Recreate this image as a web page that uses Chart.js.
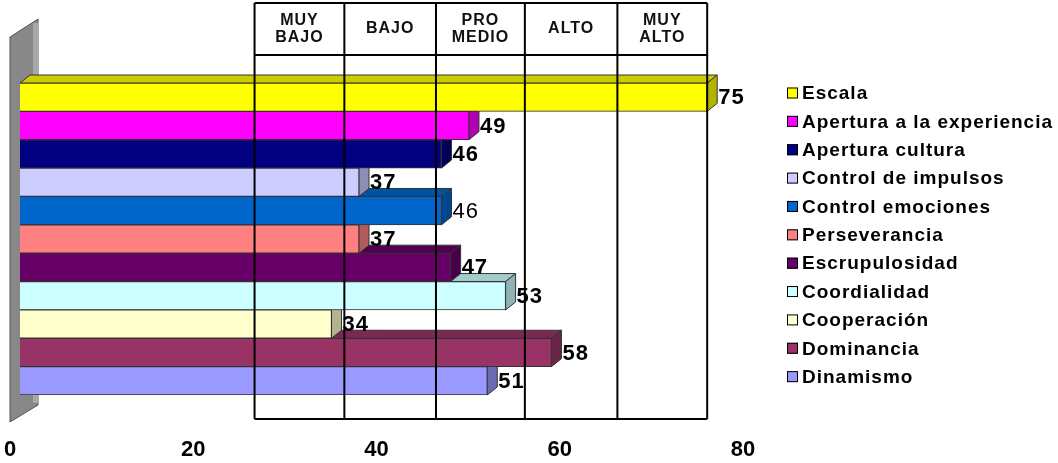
<!DOCTYPE html>
<html>
<head>
<meta charset="utf-8">
<script src="https://cdn.jsdelivr.net/npm/chart.js@4/dist/chart.umd.min.js"></script>
<style>
  html, body { margin: 0; padding: 0; background: #fff; }
  #wrap { width: 1058px; height: 463px; }
</style>
</head>
<body>
<div id="wrap"><canvas id="perfil"></canvas></div>
<script>
const escalas = [
  "Escala",
  "Apertura a la experiencia",
  "Apertura cultura",
  "Control de impulsos",
  "Control emociones",
  "Perseverancia",
  "Escrupulosidad",
  "Coordialidad",
  "Cooperación",
  "Dominancia",
  "Dinamismo"
];
const puntajes = [75, 49, 46, 37, 46, 37, 47, 53, 34, 58, 51];
const colores = [
  "#FFFF00", "#FF00FF", "#000080", "#CCCCFF", "#0066CC", "#FF8080",
  "#660066", "#CCFFFF", "#FFFFCC", "#993366", "#9999FF"
];
const ejeTicks = [0, 20, 40, 60, 80];
// rangos de la tabla superior (en puntos de la escala)
const rangos = ["MUY\nBAJO", "BAJO", "PRO\nMEDIO", "ALTO", "MUY\nALTO"];
const limitesRango = [25.6, 35.4, 45.4, 55.1, 65.2, 75.0];
// peso de la etiqueta de cada barra (una sale sin negrita en el original)
const pesoEtiqueta = ["bold", "bold", "bold", "bold", "normal", "bold", "bold", "bold", "bold", "bold", "bold"];

const FONT = "'Liberation Sans', Arial, sans-serif";
const DX = 10, DY = -8;

function shade(hex, f) {
  const n = parseInt(hex.slice(1), 16);
  const r = Math.round(((n >> 16) & 255) * f);
  const g = Math.round(((n >> 8) & 255) * f);
  const b = Math.round((n & 255) * f);
  return `rgb(${r},${g},${b})`;
}

const efecto3d = {
  id: 'efecto3d',
  beforeDatasetsDraw(chart) {
    const {ctx, chartArea: ca} = chart;
    const meta = chart.getDatasetMeta(0);
    ctx.save();
    // pared lateral
    ctx.fillStyle = '#888888';
    ctx.strokeStyle = '#555555';
    ctx.lineWidth = 1;
    ctx.beginPath();
    ctx.moveTo(ca.left - 10, ca.top - 46);
    ctx.lineTo(ca.left + 18, ca.top - 64);
    ctx.lineTo(ca.left + 18, ca.bottom + 10);
    ctx.lineTo(ca.left - 10, ca.bottom + 27);
    ctx.closePath();
    ctx.fill();
    ctx.stroke();
    ctx.fillStyle = '#a8a8a8';
    ctx.fillRect(ca.left + 13, ca.top - 60, 5, ca.bottom - ca.top + 68);

    for (let i = meta.data.length - 1; i >= 0; i--) {
      const {x, y, base, height} = meta.data[i].getProps(['x', 'y', 'base', 'height'], true);
      const top = y - height / 2, bottom = y + height / 2;
      ctx.strokeStyle = '#333333';
      // cara superior
      ctx.fillStyle = shade(colores[i], 0.8);
      ctx.beginPath();
      ctx.moveTo(base, top);
      ctx.lineTo(base + DX, top + DY);
      ctx.lineTo(x + DX, top + DY);
      ctx.lineTo(x, top);
      ctx.closePath();
      ctx.fill();
      ctx.stroke();
      // cara lateral
      ctx.fillStyle = shade(colores[i], 0.7);
      ctx.beginPath();
      ctx.moveTo(x, top);
      ctx.lineTo(x + DX, top + DY);
      ctx.lineTo(x + DX, bottom + DY);
      ctx.lineTo(x, bottom);
      ctx.closePath();
      ctx.fill();
      ctx.stroke();
    }
    ctx.restore();
  },
  afterDatasetsDraw(chart) {
    const {ctx, chartArea: ca, scales} = chart;
    const xs = scales.x;
    const meta = chart.getDatasetMeta(0);
    ctx.save();
    // tabla de rangos
    const xsPx = limitesRango.map(v => xs.getPixelForValue(v));
    const tTop = 3, tHead = 55, tBottom = ca.bottom + 24;
    ctx.strokeStyle = '#000';
    ctx.lineWidth = 2;
    ctx.beginPath();
    xsPx.forEach(px => { ctx.moveTo(px, tTop); ctx.lineTo(px, tBottom); });
    ctx.moveTo(xsPx[0], tTop); ctx.lineTo(xsPx[xsPx.length - 1], tTop);
    ctx.moveTo(xsPx[0], tHead); ctx.lineTo(xsPx[xsPx.length - 1], tHead);
    ctx.moveTo(xsPx[0], tBottom); ctx.lineTo(xsPx[xsPx.length - 1], tBottom);
    ctx.stroke();

    ctx.fillStyle = '#111';
    ctx.font = `bold 16px ${FONT}`;
    ctx.letterSpacing = '1px';
    ctx.textAlign = 'center';
    ctx.textBaseline = 'middle';
    rangos.forEach((txt, k) => {
      const cx = (xsPx[k] + xsPx[k + 1]) / 2;
      const lines = txt.split('\n');
      const y0 = 29 - (lines.length - 1) * 8.5;
      lines.forEach((ln, j) => ctx.fillText(ln, cx, y0 + j * 17));
    });

    // etiquetas de valores
    ctx.fillStyle = '#000';
    ctx.textAlign = 'left';
    meta.data.forEach((bar, i) => {
      const {x, y} = bar.getProps(['x', 'y'], true);
      ctx.font = `${pesoEtiqueta[i]} 22px ${FONT}`;
      ctx.fillText(String(puntajes[i]), x + DX + 1, y + 1);
    });

    // leyenda
    const paso = (ca.bottom - ca.top) / escalas.length;
    ctx.font = `bold 19px ${FONT}`;
    ctx.letterSpacing = '1px';
    ctx.lineWidth = 1;
    ctx.strokeStyle = '#000';
    escalas.forEach((lbl, i) => {
      const ly = ca.top + 10 + i * paso;
      const lx = ca.right + 34;
      ctx.fillStyle = colores[i];
      ctx.fillRect(lx, ly - 5.5, 11, 11);
      ctx.strokeRect(lx + 0.5, ly - 5, 10, 10);
      ctx.fillStyle = '#000';
      ctx.fillText(lbl, lx + 15, ly + 1);
    });
    ctx.restore();
  }
};

new Chart(document.getElementById('perfil'), {
  type: 'bar',
  data: {
    labels: escalas,
    datasets: [{
      data: puntajes,
      backgroundColor: colores,
      borderColor: '#333333',
      borderWidth: 1,
      barPercentage: 1,
      categoryPercentage: 1
    }]
  },
  options: {
    indexAxis: 'y',
    responsive: true,
    maintainAspectRatio: false,
    animation: false,
    layout: { padding: { left: 20, right: 305, top: 83, bottom: 0 } },
    scales: {
      x: {
        min: 0,
        max: 80,
        grid: { display: false, drawTicks: true, tickLength: 42 },
        border: { display: false },
        afterBuildTicks: s => { s.ticks = ejeTicks.map(v => ({ value: v })); },
        ticks: {
          padding: 0,
          labelOffset: -10,
          color: '#000',
          font: { family: FONT, size: 22, weight: 'bold' }
        },
        afterFit: s => { s.height = 68; }
      },
      y: {
        display: false
      }
    },
    plugins: {
      tooltip: { enabled: false },
      legend: { display: false }
    }
  },
  plugins: [efecto3d]
});
</script>
</body>
</html>
